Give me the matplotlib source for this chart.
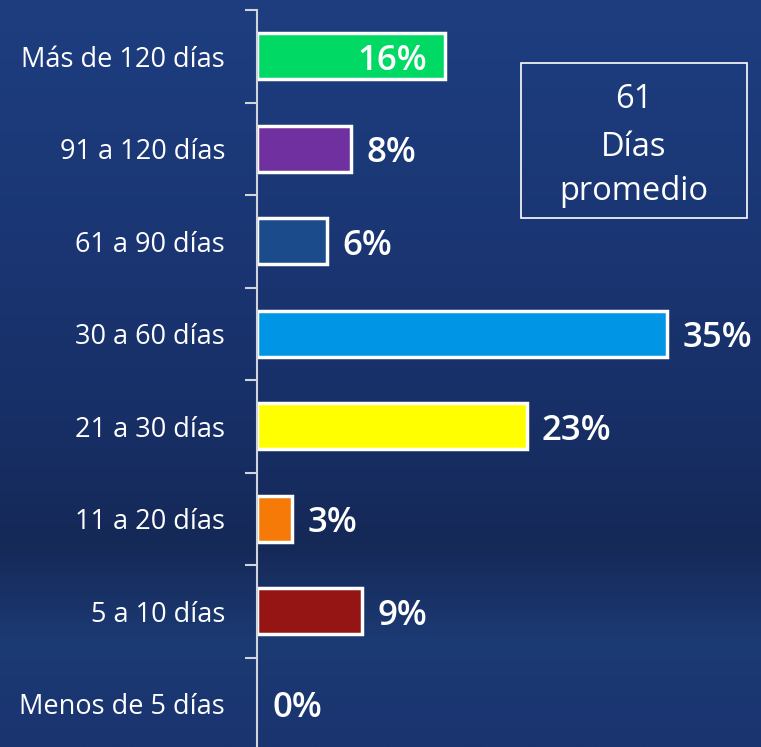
import matplotlib.pyplot as plt
import numpy as np
from matplotlib.patches import Rectangle
from matplotlib.colors import LinearSegmentedColormap

categories = ['Más de 120 días', '91 a 120 días', '61 a 90 días', '30 a 60 días',
              '21 a 30 días', '11 a 20 días', '5 a 10 días', 'Menos de 5 días']
values = [16, 8, 6, 35, 23, 3, 9, 0]
bar_colors = ['#00d964', '#7030a0', '#1b4b8a', '#0095e5', '#ffff00', '#f57a08', '#951515', '#951515']
average_days = 61

plt.rcParams['font.family'] = ['Open Sans', 'DejaVu Sans']

fig = plt.figure(figsize=(7.61, 7.47), dpi=100)

# background gradient
bg = fig.add_axes([0, 0, 1, 1])
bg_cmap = LinearSegmentedColormap.from_list('bg', [
    (0.0, '#1e3e80'), (0.35, '#1a3572'), (0.6, '#172e64'),
    (0.73, '#152957'), (0.86, '#1c3a74'), (1.0, '#1a3470')])
grad = np.linspace(0, 1, 256).reshape(-1, 1)
bg.imshow(grad, aspect='auto', cmap=bg_cmap, extent=[0, 1, 0, 1], origin='upper')
bg.axis('off')

ax = fig.add_axes([257 / 761, -3 / 747, 1 - 257 / 761, 740 / 747])
ax.patch.set_alpha(0)
y = np.arange(len(categories))
widths = [2.5 if v > 0 else 0 for v in values]
ax.barh(y, values, height=0.5, color=bar_colors, edgecolor='white', linewidth=widths)
ax.set_xlim(0, 43)
ax.set_ylim(len(categories) - 0.5, -0.5)

for i, v in enumerate(values):
    if i == 0:
        ax.text(v - 1.5, i + 0.05, f'{v}%', color='white', fontsize=25,
                ha='right', va='center', fontweight='semibold')
    else:
        ax.text(v + 1.3, i + 0.05, f'{v}%', color='white', fontsize=25,
                ha='left', va='center', fontweight='semibold')

for s in ['top', 'right', 'bottom']:
    ax.spines[s].set_visible(False)
ax.spines['left'].set_color('#d0d4dc')
ax.spines['left'].set_linewidth(1.5)
ax.set_xticks([])
ax.set_yticks(y)
ax.set_yticklabels(categories, color='white', fontsize=19.5)
ax.tick_params(axis='y', which='major', length=0, pad=23)
ax.set_yticks(np.arange(-0.5, len(categories) - 1, 1), minor=True)
ax.tick_params(axis='y', which='minor', length=8.5, width=1.5, color='#d0d4dc')

# average days box
box = Rectangle((521 / 761, 1 - 218 / 747), 226 / 761, 155 / 747, transform=fig.transFigure,
                facecolor='none', edgecolor='white', linewidth=1.2)
fig.patches.append(box)
fig.text(634 / 761, 1 - 100 / 747, str(average_days), color='white', fontsize=23.5, ha='center', va='center')
fig.text(634 / 761, 1 - 148 / 747, 'Días', color='white', fontsize=23.5, ha='center', va='center')
fig.text(634 / 761, 1 - 191 / 747, 'promedio', color='white', fontsize=23.5, ha='center', va='center')

fig.savefig('out.png', dpi=100)
